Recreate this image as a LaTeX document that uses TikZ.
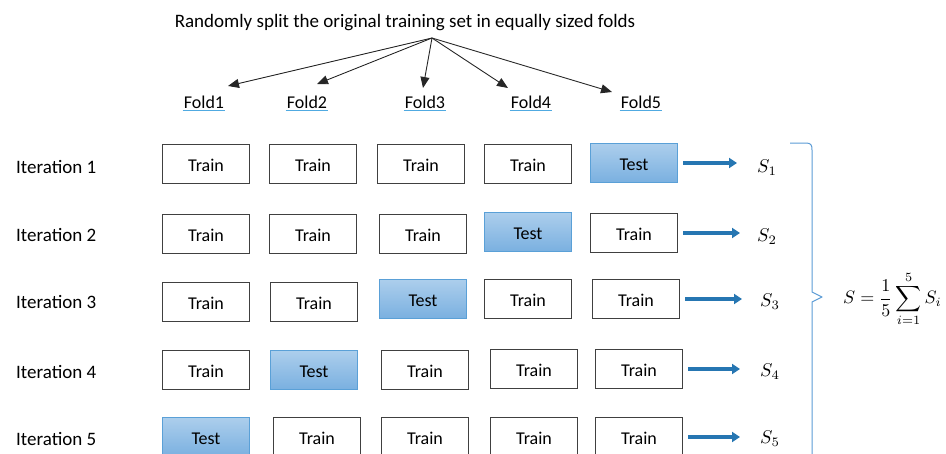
\documentclass[tikz,border=0pt]{standalone}
\usepackage{fontspec}
\usepackage{graphicx}
\setmainfont{Carlito}
\usetikzlibrary{arrows.meta}
\definecolor{arrowblue}{RGB}{38,118,178}
\definecolor{bracecol}{RGB}{91,155,213}
\definecolor{ulcol}{RGB}{80,170,225}
\definecolor{testtop}{RGB}{172,206,236}
\definecolor{testbot}{RGB}{122,176,224}
\definecolor{testborder}{RGB}{90,160,215}
\tikzset{
  trainbox/.style={draw=black!75, line width=1.2pt, fill=white, minimum width=87pt, minimum height=39pt, inner sep=0pt, text height=15.6pt, text depth=0pt, font=\fontsize{18}{20}\selectfont},
  testbox/.style={draw=testborder, line width=1pt, top color=testtop, bottom color=testbot, minimum width=87pt, minimum height=39pt, inner sep=0pt, text height=15.6pt, text depth=0pt, font=\fontsize{18}{20}\selectfont},
  iterlabel/.style={anchor=west, inner sep=0pt, font=\fontsize{19}{21}\selectfont},
  foldlabel/.style={inner sep=1pt, font=\fontsize{18}{20}\selectfont},
  scorelabel/.style={anchor=west, inner sep=0pt},
  splitarrow/.style={-{Triangle[length=11pt,width=9pt]}, line width=0.9pt, black!85},
  scorearrow/.style={-{Triangle[length=8pt,width=10pt]}, line width=3.5pt, arrowblue},
}
\newcommand{\score}[1]{\scalebox{1.85}{$S_{#1}$}}
\begin{document}
\begin{tikzpicture}[x=1pt,y=-1pt]
\useasboundingbox (0,0) rectangle (946,453);

% title
\node[font=\fontsize{19}{21}\selectfont, inner sep=0pt] (title) at (405,23) {Randomly split the original training set in equally sized folds};
\coordinate (src) at (432,38);

% fold labels
\node[foldlabel] (f1) at (204,102) {Fold1};
\node[foldlabel] (f2) at (307,102) {Fold2};
\node[foldlabel] (f3) at (425,102) {Fold3};
\node[foldlabel] (f4) at (531,102) {Fold4};
\node[foldlabel] (f5) at (641,102) {Fold5};
\foreach \f in {f1,f2,f3,f4,f5}{
  \draw[ulcol, line width=1.2pt] ([yshift=-1pt]\f.south west) -- ([yshift=-1pt]\f.south east);
}
\coordinate (t1) at (228,86);
\coordinate (t2) at (317,84);
\coordinate (t3) at (423,88);
\coordinate (t4) at (508,88);
\coordinate (t5) at (612,92);
\foreach \t in {t1,t2,t3,t4,t5}{
  \draw[splitarrow] (src) -- (\t);
}

% iteration labels
\node[iterlabel] (it1) at (16,167) {Iteration 1};
\node[iterlabel] (it2) at (16,235) {Iteration 2};
\node[iterlabel] (it3) at (16,302) {Iteration 3};
\node[iterlabel] (it4) at (16,372) {Iteration 4};
\node[iterlabel] (it5) at (16,439) {Iteration 5};

% row 1
\node[trainbox] (b11) at (206,164) {Train};
\node[trainbox] (b12) at (313,164) {Train};
\node[trainbox] (b13) at (421,164) {Train};
\node[trainbox] (b14) at (528,164) {Train};
\node[testbox]  (b15) at (634,163) {Test};
% row 2
\node[trainbox] (b21) at (206,234) {Train};
\node[trainbox] (b22) at (313,234) {Train};
\node[trainbox] (b23) at (423,234) {Train};
\node[testbox]  (b24) at (528,232) {Test};
\node[trainbox] (b25) at (634,233) {Train};
% row 3
\node[trainbox] (b31) at (206,302) {Train};
\node[trainbox] (b32) at (314,302) {Train};
\node[testbox]  (b33) at (423,299) {Test};
\node[trainbox] (b34) at (528,299) {Train};
\node[trainbox] (b35) at (636,299) {Train};
% row 4
\node[trainbox] (b41) at (206,370) {Train};
\node[testbox]  (b42) at (314,370) {Test};
\node[trainbox] (b43) at (425,370) {Train};
\node[trainbox] (b44) at (534,369) {Train};
\node[trainbox] (b45) at (639,369) {Train};
% row 5
\node[testbox]  (b51) at (206,437) {Test};
\node[trainbox] (b52) at (317,437) {Train};
\node[trainbox] (b53) at (425,437) {Train};
\node[trainbox] (b54) at (534,437) {Train};
\node[trainbox] (b55) at (639,437) {Train};

% scores
\node[scorelabel] (s1) at (757,168) {\score{1}};
\node[scorelabel] (s2) at (757,237) {\score{2}};
\node[scorelabel] (s3) at (760,302) {\score{3}};
\node[scorelabel] (s4) at (760,372) {\score{4}};
\node[scorelabel] (s5) at (760,439) {\score{5}};
\draw[scorearrow, shorten <=5pt, shorten >=20pt] (b15.east) -- (s1.west |- b15.east);
\draw[scorearrow, shorten <=5pt, shorten >=17pt] (b25.east) -- (s2.west |- b25.east);
\draw[scorearrow, shorten <=5pt, shorten >=18pt] (b35.east) -- (s3.west |- b35.east);
\draw[scorearrow, shorten <=5pt, shorten >=20pt] (b45.east) -- (s4.west |- b45.east);
\draw[scorearrow, shorten <=5pt, shorten >=20pt] (b55.east) -- (s5.west |- b55.east);

% brace
\draw[bracecol, line width=1pt, line join=round]
  (790,143) -- (806,143) .. controls (811,143) and (812,145) .. (812,150)
  -- (812,292) -- (822,297) -- (812,302) -- (812,460);

% formula
\node[anchor=west, inner sep=0pt] (avg) at (843,299)
  {\scalebox{1.8}{$\displaystyle S=\frac{1}{5}\sum_{i=1}^{5}S_i$}};
\end{tikzpicture}
\end{document}
